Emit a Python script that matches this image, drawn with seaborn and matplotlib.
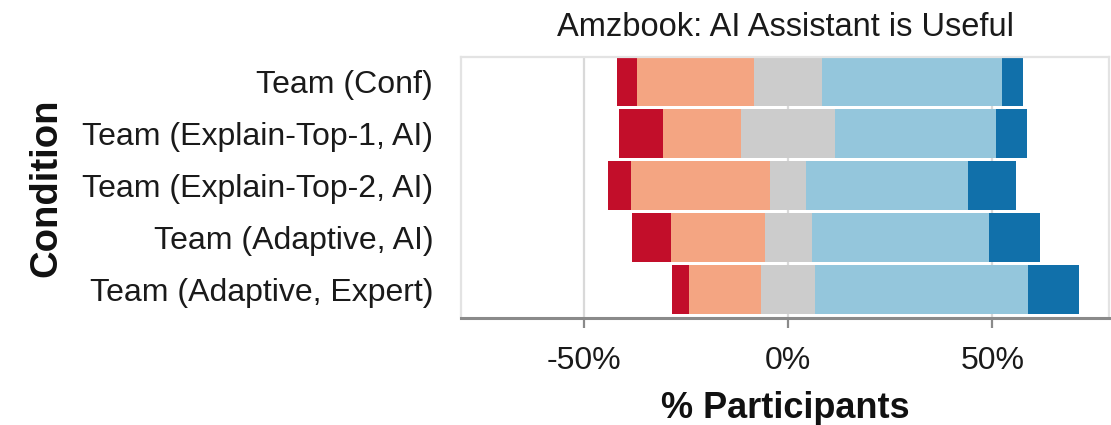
import matplotlib
matplotlib.use("Agg")
import matplotlib.pyplot as plt
import seaborn as sns
import pandas as pd
import numpy as np

conditions = ["Team (Conf)", "Team (Explain-Top-1, AI)", "Team (Explain-Top-2, AI)",
              "Team (Adaptive, AI)", "Team (Adaptive, Expert)"]
strongly_disagree = [5.0, 10.7, 5.8, 9.5, 4.1]
disagree = [28.6, 19.1, 34.0, 22.8, 17.5]
neutral = [16.7, 23.2, 8.6, 11.5, 13.4]
agree = [43.9, 39.3, 39.7, 43.4, 51.9]
strongly_agree = [5.3, 7.6, 11.8, 12.5, 12.6]
x_ticks = [-50, 0, 50]
x_tick_labels = ["-50%", "0%", "50%"]

colors = {"sd": "#c20e2a", "d": "#f4a582", "n": "#cccccc", "a": "#94c6dc", "sa": "#1170aa"}

sns.set_theme(style="white")
plt.rcParams["font.family"] = ["Liberation Sans", "DejaVu Sans"]

sd = np.array(strongly_disagree)
d = np.array(disagree)
n = np.array(neutral)
a = np.array(agree)
sa = np.array(strongly_agree)

df = pd.DataFrame({
    "Condition": conditions,
    "neg_sd": -(n / 2 + d + sd),
    "neg_d": -(n / 2 + d),
    "neg_n": -(n / 2),
    "pos_n": n / 2,
    "pos_a": n / 2 + a,
    "pos_sa": n / 2 + a + sa,
})

fig = plt.figure(figsize=(11.11, 4.25), dpi=100)
ax = fig.add_axes([0.4149, 0.2518, 0.5833, 0.6141])

layers = [("neg_sd", "sd"), ("neg_d", "d"), ("neg_n", "n"),
          ("pos_sa", "sa"), ("pos_a", "a"), ("pos_n", "n")]
for col, key in layers:
    sns.barplot(data=df, x=col, y="Condition", order=conditions, orient="h",
                color=colors[key], saturation=1, width=0.93, errorbar=None,
                linewidth=0, ax=ax, zorder=2)

ax.set_xlim(-80, 78.5)
ax.set_ylim(4.55, -0.47)
ax.set_xticks(x_ticks)
ax.set_xticklabels(x_tick_labels)
ax.grid(axis="x", color="#d9d9d9", linewidth=1.6, zorder=0)
ax.grid(axis="y", visible=False)
ax.set_axisbelow(True)

for side in ["top", "left", "right"]:
    ax.spines[side].set_color("#e3e3e3")
    ax.spines[side].set_linewidth(1.6)
ax.spines["bottom"].set_color("#8a8a8a")
ax.spines["bottom"].set_linewidth(2.2)

ax.tick_params(axis="x", bottom=True, length=7, width=1.6, color="#8a8a8a",
               labelsize=23, pad=13, labelcolor="#1a1a1a")
ax.tick_params(axis="y", left=False, length=0, labelsize=23, pad=20, labelcolor="#1a1a1a")

ax.set_xlabel("% Participants", fontsize=26, fontweight="bold", labelpad=11, color="#111111")
ax.set_ylabel("Condition", fontsize=27.5, fontweight="bold", labelpad=13, color="#111111")
ax.set_title("Amzbook: AI Assistant is Useful", fontsize=23.5, pad=15, color="#1a1a1a")

fig.savefig("out.png", dpi=100)
